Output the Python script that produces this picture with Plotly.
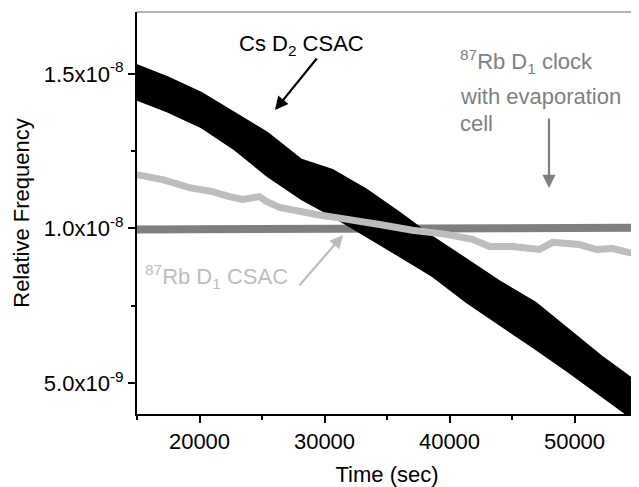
import plotly.graph_objects as go

SCALE = 1e-8  # values below are in units of 1e-8

# Cs D2 CSAC (noisy band: upper / lower envelope)
cs_time = [15000, 17440, 20160, 22800, 25440, 28160, 30640, 33360, 36000,
           38640, 41360, 44160, 46880, 49520, 52160, 55000]
cs_upper = [1.529, 1.490, 1.439, 1.374, 1.310, 1.223, 1.190, 1.126, 1.052,
            0.974, 0.900, 0.826, 0.761, 0.674, 0.587, 0.503]
cs_lower = [1.416, 1.377, 1.326, 1.255, 1.168, 1.094, 1.039, 0.974, 0.910,
            0.845, 0.761, 0.684, 0.610, 0.535, 0.458, 0.374]

# 87Rb D1 CSAC
rb_time = [15000, 17040, 19200, 21040, 22400, 23440, 24800, 25360, 26400,
           27760, 29360, 30960, 33040, 34400, 37040, 39760, 41840, 43200,
           45040, 47200, 48240, 50400, 51760, 53040, 55000]
rb_vals = [1.174, 1.158, 1.132, 1.119, 1.103, 1.094, 1.103, 1.087, 1.068,
           1.055, 1.045, 1.035, 1.023, 1.013, 0.994, 0.981, 0.965, 0.942,
           0.942, 0.932, 0.955, 0.948, 0.932, 0.935, 0.916]

# 87Rb D1 clock with evaporation cell
ev_time = [15000, 20000, 25000, 30000, 35000, 40000, 45000, 50000, 55000]
ev_vals = [0.997, 0.997, 0.998, 0.998, 0.999, 1.000, 1.001, 1.002, 1.002]

x_ticks = [20000, 30000, 40000, 50000]
x_ticktext = ["20000", "30000", "40000", "50000"]
x_minor = [15000, 25000, 35000, 45000, 55000]
y_ticks = [0.5, 1.0, 1.5]
y_ticktext = ["5.0x10<sup>-9</sup>", "1.0x10<sup>-8</sup>", "1.5x10<sup>-8</sup>"]
y_minor = [0.75, 1.25]

FONT = "Liberation Sans, Arial, sans-serif"
BLACK = "#000000"
LIGHT = "#bdbdbd"
DARK = "#7f7f7f"

fig = go.Figure()

fig.add_trace(go.Scatter(x=ev_time, y=[v * SCALE for v in ev_vals], mode="lines",
                         line=dict(color=DARK, width=8), showlegend=False))
fig.add_trace(go.Scatter(x=cs_time, y=[v * SCALE for v in cs_lower], mode="lines",
                         line=dict(color=BLACK, width=1.5), showlegend=False))
fig.add_trace(go.Scatter(x=cs_time, y=[v * SCALE for v in cs_upper], mode="lines",
                         line=dict(color=BLACK, width=1.5), fill="tonexty",
                         fillcolor=BLACK, showlegend=False))
fig.add_trace(go.Scatter(x=rb_time, y=[v * SCALE for v in rb_vals], mode="lines",
                         line=dict(color=LIGHT, width=7), showlegend=False))

# page has an 8px body margin: figure is 631x479 placed at (8, 8)
OFF = 8
W, H = 639 - OFF, 487 - OFF
L, R, T, B = 137 - OFF, 637 - OFF, 12 - OFF, 414 - OFF


def px(xp):
    return (xp - OFF - L) / (R - L)


def py(yp):
    return (B - (yp - OFF)) / (B - T)


ann = []
ann.append(dict(text="Cs D<sub>2</sub> CSAC", x=px(301), y=py(45), xref="paper", yref="paper",
                showarrow=False, font=dict(size=22, color=BLACK, family=FONT),
                xanchor="center", yanchor="middle"))
ann.append(dict(text="<sup>87</sup>Rb D<sub>1</sub> clock", x=px(458), y=py(62), xref="paper", yref="paper",
                showarrow=False, font=dict(size=22, color=DARK, family=FONT),
                xanchor="left", yanchor="middle"))
ann.append(dict(text="with evaporation", x=px(458), y=py(96), xref="paper", yref="paper",
                showarrow=False, font=dict(size=22, color=DARK, family=FONT),
                xanchor="left", yanchor="middle"))
ann.append(dict(text="cell", x=px(458), y=py(123), xref="paper", yref="paper",
                showarrow=False, font=dict(size=22, color=DARK, family=FONT),
                xanchor="left", yanchor="middle"))
ann.append(dict(text="<sup>87</sup>Rb D<sub>1</sub> CSAC", x=px(143), y=py(276), xref="paper", yref="paper",
                showarrow=False, font=dict(size=22, color=LIGHT, family=FONT),
                xanchor="left", yanchor="middle"))
for (hx, hy, tx, ty, col) in [(275, 110, 318, 57, BLACK),
                              (549, 188, 549, 117, DARK),
                              (343, 235, 298, 287, LIGHT)]:
    ann.append(dict(text="", x=px(hx), y=py(hy), xref="paper", yref="paper",
                    ax=tx - hx, ay=ty - hy, showarrow=True, arrowhead=2,
                    arrowsize=1.2, arrowwidth=2.2, arrowcolor=col, standoff=0))

fig.update_layout(
    width=W, height=H,
    margin=dict(l=L, r=W - R, t=T, b=H - B),
    paper_bgcolor="white", plot_bgcolor="white",
    font=dict(family=FONT, size=22, color=BLACK),
    annotations=ann,
    shapes=[
        dict(type="line", xref="paper", yref="paper", x0=0, x1=1, y0=1, y1=1,
             line=dict(color="#9a9a9a", width=1.5)),
        dict(type="line", xref="paper", yref="paper", x0=1, x1=1, y0=0, y1=1,
             line=dict(color="#9a9a9a", width=1.5)),
    ],
)

fig.update_xaxes(
    range=[15000, 55000], showgrid=False, zeroline=False,
    showline=True, linecolor=BLACK, linewidth=2,
    ticks="outside", ticklen=7, tickwidth=2, tickcolor=BLACK,
    tickmode="array", tickvals=x_ticks, ticktext=x_ticktext,
    tickfont=dict(size=22, family=FONT, color=BLACK),
    minor=dict(ticks="outside", ticklen=4, tickwidth=2, tickcolor=BLACK,
               tickmode="array", tickvals=x_minor, showgrid=False),
    title=dict(text="Time (sec)", font=dict(size=22, family=FONT, color=BLACK), standoff=14),
    automargin=False,
)
fig.update_yaxes(
    range=[0.4 * SCALE, 1.7 * SCALE], showgrid=False, zeroline=False,
    showline=True, linecolor=BLACK, linewidth=2,
    ticks="outside", ticklen=7, tickwidth=2, tickcolor=BLACK,
    tickmode="array", tickvals=[v * SCALE for v in y_ticks], ticktext=y_ticktext,
    tickfont=dict(size=22, family=FONT, color=BLACK),
    minor=dict(ticks="outside", ticklen=4, tickwidth=2, tickcolor=BLACK,
               tickmode="array", tickvals=[v * SCALE for v in y_minor], showgrid=False),
    title=dict(text="Relative Frequency", font=dict(size=22, family=FONT, color=BLACK), standoff=8),
    automargin=False,
)

fig.write_html("out.html")
